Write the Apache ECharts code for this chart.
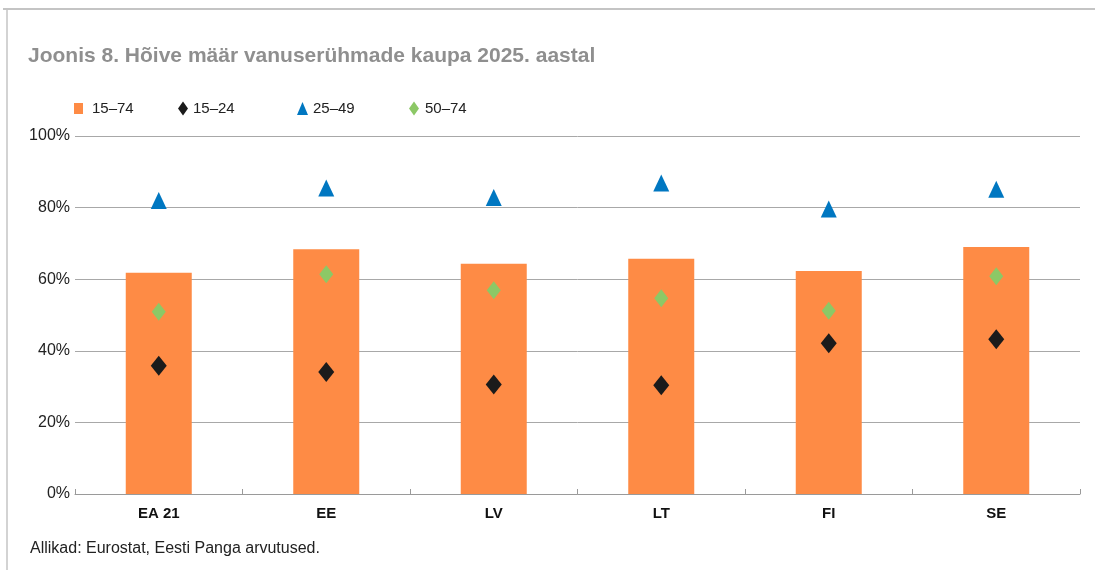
<!DOCTYPE html>
<html>
<head>
<meta charset="utf-8">
<script src="https://cdn.jsdelivr.net/npm/echarts@6/dist/echarts.min.js"></script>
<style>
  html, body { margin: 0; padding: 0; background: #fff; }
  #chart { width: 1095px; height: 570px; }
</style>
</head>
<body>
<div id="chart"></div>
<script>
var categories = ["EA 21", "EE", "LV", "LT", "FI", "SE"];
var age15_74 = [61.8, 68.4, 64.3, 65.7, 62.3, 69.0];
var age15_24 = [35.8, 34.1, 30.6, 30.4, 42.1, 43.2];
var age25_49 = [82.0, 85.5, 82.8, 86.9, 79.6, 85.1];
var age50_74 = [50.9, 61.4, 56.9, 54.7, 51.2, 60.8];
var yTicks = [0, 20, 40, 60, 80, 100];

var font = "Liberation Sans";
var chart = echarts.init(document.getElementById("chart"));

function legendAt(left, name, icon, w, h, gap) {
  return {
    left: left,
    top: 96,
    itemWidth: w,
    itemHeight: h,
    itemGap: 0,
    data: [{ name: name, icon: icon }],
    textStyle: { fontFamily: font, fontSize: 15, color: "#222", padding: [0, 0, 0, gap] },
  };
}

chart.setOption({
  animation: false,
  backgroundColor: "#fff",
  title: {
    text: "Joonis 8. Hõive määr vanuserühmade kaupa 2025. aastal",
    left: 23,
    top: 41,
    textStyle: { fontFamily: font, fontSize: 21, fontWeight: "bold", color: "#8f8f8f" },
  },
  graphic: [
    { type: "line", shape: { x1: 3, y1: 9, x2: 1095, y2: 9 }, style: { stroke: "#c4c4c4", lineWidth: 2 } },
    { type: "line", shape: { x1: 7, y1: 9, x2: 7, y2: 570 }, style: { stroke: "#c4c4c4", lineWidth: 1.5 } },
    {
      type: "text",
      left: 30,
      top: 541,
      style: { text: "Allikad: Eurostat, Eesti Panga arvutused.", fontFamily: font, fontSize: 16, fill: "#222" },
    },
  ],
  legend: [
    legendAt(69, "15–74", "rect", 9, 11, 4),
    legendAt(173, "15–24", "diamond", 10, 14, 0),
    legendAt(292, "25–49", "triangle", 11, 13, 0),
    legendAt(404, "50–74", "diamond", 10, 14, 1),
  ],
  grid: { left: 75, right: 15, top: 136, bottom: 76 },
  xAxis: {
    type: "category",
    data: categories,
    axisLine: { lineStyle: { color: "#9a9a9a", width: 1 } },
    axisTick: { show: true, inside: true, length: 5, lineStyle: { color: "#9a9a9a" } },
    axisLabel: { fontFamily: font, fontSize: 15, fontWeight: "bold", color: "#111", margin: 12 },
    splitLine: { show: false },
  },
  yAxis: {
    type: "value",
    min: 0,
    max: 100,
    interval: 20,
    axisLine: { show: false },
    axisTick: { show: false },
    axisLabel: {
      fontFamily: font,
      fontSize: 16,
      color: "#222",
      margin: 5,
      formatter: function (v) { return yTicks.indexOf(v) >= 0 ? v + "%" : ""; },
    },
    splitLine: { lineStyle: { color: "#a8a8a8", width: 1 } },
  },
  series: [
    {
      name: "15–74",
      type: "bar",
      data: age15_74,
      barWidth: 66,
      itemStyle: { color: "#fe8b45" },
      z: 1,
    },
    {
      name: "15–24",
      type: "scatter",
      data: age15_24,
      symbol: "diamond",
      symbolSize: [16, 20],
      itemStyle: { color: "#1b1b1b", opacity: 1 },
      z: 3,
    },
    {
      name: "25–49",
      type: "scatter",
      data: age25_49,
      symbol: "triangle",
      symbolSize: [16, 17],
      itemStyle: { color: "#0077c1", opacity: 1 },
      z: 3,
    },
    {
      name: "50–74",
      type: "scatter",
      data: age50_74,
      symbol: "diamond",
      symbolSize: [14, 18],
      itemStyle: { color: "#8cc866", opacity: 1 },
      z: 3,
    },
  ],
});
</script>
</body>
</html>
